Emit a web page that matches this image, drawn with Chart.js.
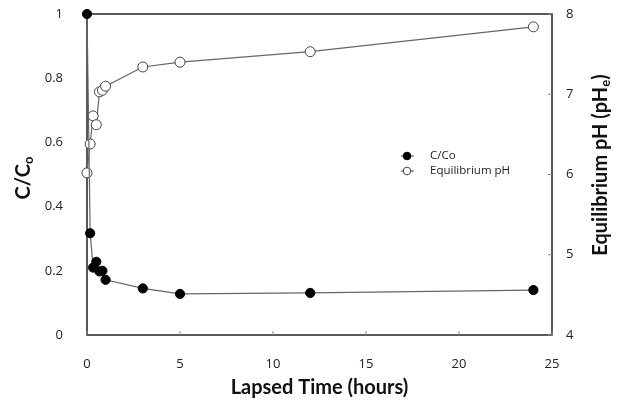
<!DOCTYPE html>
<html>
<head>
  <title>C/Co and equilibrium pH</title>
  <script src="https://cdn.jsdelivr.net/npm/chart.js@4/dist/chart.umd.min.js"></script>
  <style>
    body { margin: 0; background: #fff; }
    #wrap { width: 619px; height: 405px; }
  </style>
</head>
<body>
  <div id="wrap"><canvas id="chart"></canvas></div>
  <script>
    // values
    const hours = [0, 0.17, 0.33, 0.5, 0.67, 0.83, 1, 3, 5, 12, 24];
    const cOverCo = [1.0, 0.317, 0.21, 0.228, 0.198, 0.2, 0.172, 0.145, 0.128, 0.131, 0.14];
    const equilPH = [6.02, 6.38, 6.73, 6.62, 7.03, 7.05, 7.1, 7.34, 7.4, 7.53, 7.84];
    const seriesNames = ['C/Co', 'Equilibrium pH'];
    // vertical titles as [main, subscript, tail]
    const leftTitle = ['C/C', 'o', ''];
    const rightTitle = ['Equilibrium pH (pH', 'e', ')'];

    const tickFont = { family: 'Open Sans', size: 13 };
    const titleFont = { family: 'Lato', size: 20, weight: 'bold' };

    // draws "main + sub + tail" rotated -90deg, centred on (cx, cy)
    function vTitle(ctx, parts, cx, cy) {
      const big = 'bold 20px Lato', small = 'bold 13px Lato';
      ctx.font = big; const w1 = ctx.measureText(parts[0]).width, w3 = ctx.measureText(parts[2]).width;
      ctx.font = small; const w2 = ctx.measureText(parts[1]).width;
      const total = w1 + w2 + w3;
      ctx.save();
      ctx.translate(cx, cy);
      ctx.rotate(-Math.PI / 2);
      ctx.fillStyle = '#111';
      ctx.textBaseline = 'middle';
      let x = -total / 2;
      ctx.font = big; ctx.fillText(parts[0], x, 0); x += w1;
      ctx.font = small; ctx.fillText(parts[1], x, 5); x += w2;
      ctx.font = big; ctx.fillText(parts[2], x, 0);
      ctx.restore();
    }

    // frame, inward tick marks, titles and legend
    const decor = {
      id: 'decor',
      beforeDatasetsDraw(chart) {
        const { ctx, chartArea: a, scales } = chart;
        ctx.save();
        ctx.strokeStyle = '#222';
        ctx.lineWidth = 1.5;
        ctx.strokeRect(a.left, a.top, a.right - a.left, a.bottom - a.top);
        ctx.lineWidth = 1;
        ctx.strokeStyle = '#888';
        scales.x.ticks.forEach(t => {
          const px = scales.x.getPixelForValue(t.value);
          ctx.beginPath(); ctx.moveTo(px, a.bottom); ctx.lineTo(px, a.bottom - 4); ctx.stroke();
        });
        scales.y2.ticks.forEach(t => {
          const py = scales.y2.getPixelForValue(t.value);
          ctx.beginPath(); ctx.moveTo(a.right, py); ctx.lineTo(a.right - 4, py); ctx.stroke();
        });
        ctx.restore();
      },
      afterDraw(chart) {
        const { ctx } = chart;
        vTitle(ctx, leftTitle, 24, 178);
        vTitle(ctx, rightTitle, 601, 165);
        ctx.save();
        ctx.font = '11.5px "Open Sans"';
        ctx.textBaseline = 'middle';
        chart.data.datasets.forEach((ds, i) => {
          const y = 156 + i * 15;
          ctx.strokeStyle = '#444';
          ctx.lineWidth = 1;
          ctx.beginPath(); ctx.moveTo(401, y); ctx.lineTo(414, y); ctx.stroke();
          ctx.beginPath(); ctx.arc(407, y, 3.8, 0, Math.PI * 2);
          ctx.fillStyle = ds.pointBackgroundColor; ctx.fill();
          ctx.strokeStyle = ds.pointBorderColor; ctx.stroke();
          ctx.fillStyle = '#222';
          ctx.fillText(ds.label, 430, y);
        });
        ctx.restore();
      }
    };

    const fitV = w => s => { s.width = w; s.paddingTop = 0; s.paddingBottom = 0; };

    new Chart(document.getElementById('chart'), {
      type: 'scatter',
      data: {
        datasets: [
          {
            label: seriesNames[0],
            data: hours.map((h, i) => ({ x: h, y: cOverCo[i] })),
            yAxisID: 'y',
            showLine: true,
            clip: false,
            borderColor: '#666',
            borderWidth: 1.2,
            pointRadius: 4.6,
            pointBackgroundColor: '#000',
            pointBorderColor: '#000',
            pointBorderWidth: 1
          },
          {
            label: seriesNames[1],
            data: hours.map((h, i) => ({ x: h, y: equilPH[i] })),
            yAxisID: 'y2',
            showLine: true,
            clip: false,
            borderColor: '#666',
            borderWidth: 1.2,
            pointRadius: 5,
            pointBackgroundColor: '#fff',
            pointBorderColor: '#444',
            pointBorderWidth: 1
          }
        ]
      },
      options: {
        responsive: true,
        maintainAspectRatio: false,
        animation: false,
        layout: { padding: { top: 14, left: 0, right: 0, bottom: 0 } },
        plugins: { legend: { display: false }, tooltip: { enabled: false } },
        scales: {
          x: {
            type: 'linear', min: 0, max: 25,
            grid: { display: false },
            border: { display: false },
            ticks: { stepSize: 5, font: tickFont, color: '#222', padding: 13, maxRotation: 0 },
            title: { display: true, text: 'Lapsed Time (hours)', font: titleFont, color: '#111', padding: { top: 0, bottom: 5 } },
            afterFit: s => { s.height = 70; s.paddingLeft = 0; s.paddingRight = 0; }
          },
          y: {
            position: 'left', min: 0, max: 1,
            grid: { display: false },
            border: { display: false },
            ticks: { stepSize: 0.2, font: tickFont, color: '#222', padding: 16,
                     callback: v => String(Number(v.toFixed(1))) },
            afterFit: fitV(87)
          },
          y2: {
            position: 'right', min: 4, max: 8,
            grid: { display: false },
            border: { display: false },
            ticks: { stepSize: 1, font: tickFont, color: '#222', padding: 6 },
            afterFit: fitV(67)
          }
        }
      },
      plugins: [decor]
    });
  </script>
</body>
</html>
